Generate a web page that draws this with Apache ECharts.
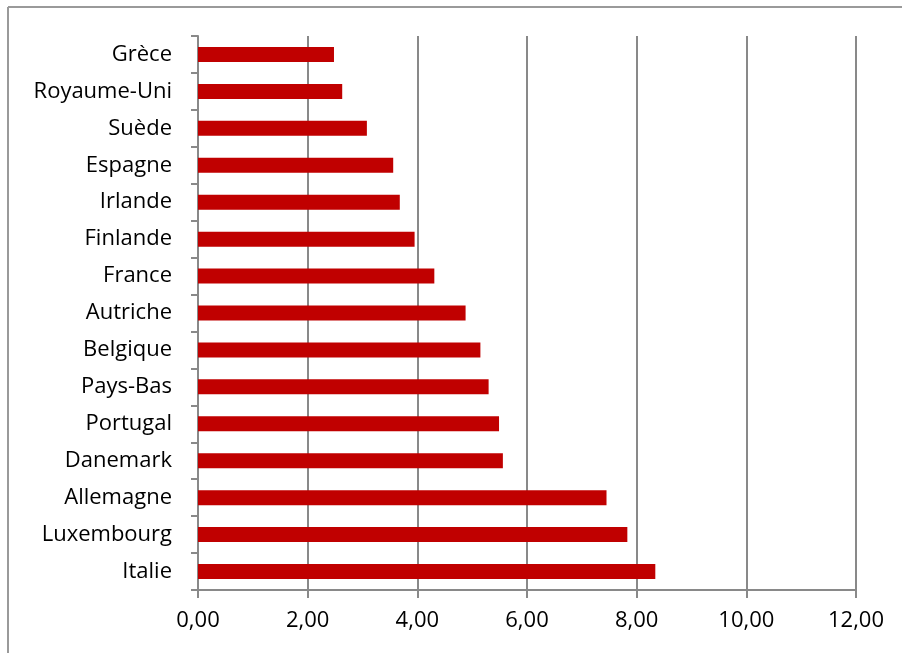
<!DOCTYPE html>
<html>
<head>
<meta charset="utf-8">
<script src="https://cdn.jsdelivr.net/npm/echarts@6/dist/echarts.min.js"></script>
<style>
  html, body { margin: 0; padding: 0; background: #fff; }
  #chart { width: 902px; height: 653px; }
</style>
</head>
<body>
<div id="chart"></div>
<script>
// Countries, top to bottom
const countries = ['Grèce', 'Royaume-Uni', 'Suède', 'Espagne', 'Irlande', 'Finlande', 'France',
  'Autriche', 'Belgique', 'Pays-Bas', 'Portugal', 'Danemark', 'Allemagne', 'Luxembourg', 'Italie'];
// Value per country
const values = [2.48, 2.63, 3.08, 3.56, 3.68, 3.95, 4.31, 4.88, 5.15, 5.30, 5.49, 5.56, 7.45, 7.83, 8.34];
// Horizontal axis range
const xMin = 0, xMax = 12, xStep = 2;

const gray = '#898989';
const font = 'Open Sans';

const chart = echarts.init(document.getElementById('chart'), null, { renderer: 'canvas' });
chart.setOption({
  animation: false,
  backgroundColor: '#ffffff',
  grid: { left: 198, right: 46, top: 36, bottom: 63, containLabel: false },
  graphic: [
    { type: 'line', shape: { x1: 8, y1: 7, x2: 8, y2: 653 }, style: { stroke: '#9a9a9a', lineWidth: 2 } },
    { type: 'line', shape: { x1: 8, y1: 7, x2: 902, y2: 7 }, style: { stroke: '#9a9a9a', lineWidth: 2 } }
  ],
  xAxis: {
    type: 'value',
    min: xMin, max: xMax, interval: xStep,
    axisLine: { show: true, lineStyle: { color: gray, width: 2 } },
    axisTick: { show: true, length: 8, lineStyle: { color: gray, width: 2 } },
    splitLine: { show: true, lineStyle: { color: gray, width: 2 } },
    axisLabel: {
      color: '#000', fontFamily: font, fontSize: 22, margin: 20,
      formatter: v => v.toFixed(2).replace('.', ',')
    }
  },
  yAxis: {
    type: 'category',
    data: countries,
    inverse: true,
    axisLine: { show: true, lineStyle: { color: gray, width: 2 } },
    axisTick: { show: true, length: 7, alignWithLabel: false, lineStyle: { color: gray, width: 2 } },
    axisLabel: { color: '#000', fontFamily: font, fontSize: 22, margin: 26, padding: [5, 0, 0, 0] },
    splitLine: { show: false }
  },
  series: [{
    type: 'bar',
    data: values,
    barWidth: 15,
    itemStyle: { color: '#c00000' }
  }]
});
</script>
</body>
</html>
